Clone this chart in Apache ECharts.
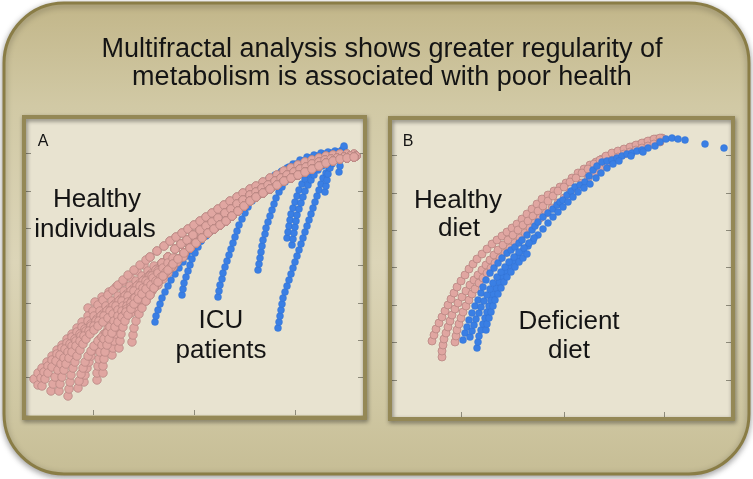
<!DOCTYPE html>
<html><head><meta charset="utf-8">
<script src="https://cdn.jsdelivr.net/npm/echarts@6/dist/echarts.min.js"></script>
<style>html,body{margin:0;padding:0;background:#fff}#c{width:753px;height:479px}</style>
</head><body><div id="c"></div>
<script>
// ---------- Panel A : Healthy individuals (pink) ----------
var trackA1 = [[124,158],[131,164],[138,169],[144,174],[150,178],[156,182],[162,186],[168,190],[174,194],[180,198],[186,202],[192,206],[198,210],[204,214],[211,218],[217,222],[224,226],[230,229],[237,233],[244,237],[251,240],[258,244],[265,247],[272,250],[279,253],[286,255],[293,257],[300,259],[307,260],[314,261],[321,261],[328,261]];
var trackA2 = [[124,139],[130,145],[136,152],[142,158],[149,166],[155,171],[161,175],[167,180],[174,185],[180,189],[186,193],[192,197],[199,202],[205,206],[211,211],[217,215],[224,220],[230,223],[236,227],[242,230],[249,234],[255,237],[261,240],[268,243],[274,246],[280,248],[286,251],[293,253],[299,255],[305,256],[311,257],[318,258],[324,259],[330,259]];
var trackA3 = [[124,120],[128,127],[132,133],[137,139],[142,145],[147,151],[152,156],[158,162],[164,167],[170,172],[176,177],[182,182],[188,186],[194,190],[200,194],[206,199],[212,204],[218,209],[224,214],[230,218],[237,222],[244,226],[251,230],[258,234],[265,237],[272,240],[279,243],[286,246],[293,249],[300,252],[307,254],[314,256],[321,257],[328,258]];
var healthyA0 = [[62,107],[69,113],[76,118],[83,123],[90,128],[97,133],[104,138],[111,144],[118,150]];
var healthyA1 = [[8,36],[12,42],[16,47],[21,53],[26,59],[31,65],[36,70],[41,76],[46,81],[51,87],[56,93],[62,99],[67,104],[72,110],[77,115],[82,120],[87,125],[92,130],[97,135],[102,140],[108,145],[114,150],[120,155]];
var healthyA2 = [[16,29],[19,36],[22,42],[26,48],[30,54],[34,60],[39,66],[44,71],[49,76],[54,81],[59,86],[65,91],[71,96],[77,101],[83,106],[89,111],[95,116],[101,121],[107,126],[113,131],[119,136],[125,141],[131,146]];
var healthyA3 = [[25,24],[27,31],[29,38],[32,45],[35,51],[38,57],[42,63],[46,69],[50,74],[55,79],[60,84],[65,89],[70,94],[75,99],[81,104],[87,109],[93,114],[99,119],[105,124],[111,129],[117,134],[123,139]];
var healthyA4 = [[33,24],[34,31],[36,38],[38,45],[40,51],[43,57],[46,63],[50,69],[54,74],[58,79],[63,84],[68,89],[73,94],[78,99],[84,104],[90,109],[96,114],[102,119],[108,124],[114,129],[120,134],[126,139],[132,144]];
var healthyA5 = [[42,19],[43,26],[44,33],[45,40],[47,47],[49,53],[51,59],[54,65],[57,71],[60,76],[64,81],[68,85],[72,89],[77,93],[82,97],[87,101],[92,105],[97,109],[102,113],[108,117],[114,121],[120,125],[126,129],[132,133]];
var healthyA6 = [[52,27],[53,34],[55,41],[57,47],[59,53],[62,59],[65,64],[68,69],[72,74],[76,78],[80,82],[85,86],[90,90],[95,94],[100,98],[105,102],[110,106],[115,110],[120,114]];
var healthyA7 = [[71,35],[71,42],[72,49],[73,56],[74,63],[76,70],[78,76],[81,82],[84,88],[88,94],[92,99],[96,104],[101,109],[106,114],[111,119],[116,124],[121,128],[126,132],[131,136],[136,140],[141,144],[146,149],[152,155],[158,161]];
var healthyA8 = [[77,42],[77,49],[78,56],[79,63],[81,70],[83,76],[86,82],[89,88],[92,93],[96,98],[100,103],[105,108],[110,112],[115,116],[120,120]];
var healthyA9 = [[93,67],[94,74],[95,81],[97,88],[99,94],[102,100],[105,106],[108,111],[112,116],[116,121],[120,126],[125,130],[130,134],[135,138],[140,143],[145,148],[151,153],[157,158]];
var healthyA10 = [[106,73],[107,80],[108,87],[110,94],[113,101],[116,107],[120,114]];
var healthyA11 = [[12,30],[15,37],[18,43],[22,49],[26,55],[31,61],[36,67],[41,72],[46,78],[51,83],[56,88],[62,94],[68,99],[74,104],[80,109],[86,114],[92,119],[98,124],[104,129],[110,134],[116,139],[122,144],[128,149]];
var healthyA12 = [[58,33],[59,40],[61,47],[63,53],[65,59],[68,65],[71,71],[74,76],[78,81],[82,86],[86,91],[90,95],[95,99],[100,103],[105,107],[110,111],[115,115],[120,119],[126,124],[132,130],[137,136],[142,142],[147,148]];
var healthyA13 = [[86,60],[87,67],[88,74],[90,81],[92,88],[95,94],[98,100],[101,106],[105,112],[109,117],[113,122],[117,127],[122,132],[127,137],[132,142],[137,147],[142,152],[147,157]];

// ---------- Panel A : ICU patients (blue) ----------
var icuA1 = [[129,93],[130,99],[132,105],[134,111],[136,117],[139,123],[142,129],[145,135],[149,141],[153,147],[157,153],[161,159],[165,164],[170,169],[175,174],[180,179],[185,184],[190,189],[196,194],[202,199],[208,204],[214,209],[220,214],[226,219],[232,224],[238,229],[245,234],[252,239],[259,243],[266,247],[273,250],[280,253],[287,256],[294,258],[301,260],[308,261],[315,262]];
var icuA2 = [[156,120],[157,126],[158,132],[160,138],[162,144],[164,150],[166,156],[169,162],[172,168],[175,174],[179,180],[183,185],[188,190],[193,195],[198,200],[204,205],[210,210],[216,215],[222,220],[228,225],[235,230],[242,235],[249,240],[256,244],[263,248],[270,251],[277,254],[284,257],[291,259],[298,261],[305,262],[312,263]];
var icuA3 = [[192,118],[193,124],[194,130],[196,136],[197,142],[199,148],[201,154],[203,160],[205,166],[207,172],[209,178],[211,184],[213,190],[216,196],[219,202],[222,208],[226,214],[230,219],[235,224],[240,229],[245,234],[250,239],[255,243],[261,247],[267,251],[274,255],[281,258],[288,260],[295,262],[302,263],[309,264],[316,265]];
var icuA4 = [[232,145],[233,151],[234,157],[235,163],[236,169],[237,175],[239,181],[240,187],[242,193],[244,199],[246,205],[248,211],[250,217],[253,223],[256,228],[259,233],[263,238],[267,242],[271,246],[276,250],[281,253],[287,256],[293,258],[299,260],[305,261],[311,262]];
var icuA5 = [[252,87],[253,93],[254,99],[255,105],[256,111],[257,117],[259,123],[261,129],[263,135],[265,141],[267,147],[269,153],[271,159],[273,165],[275,171],[277,177],[279,183],[281,189],[283,195],[285,201],[287,207],[289,213],[291,219],[293,225],[295,231],[297,237],[300,242],[303,247],[306,251],[309,255],[312,259],[315,263],[318,267]];
var icuA6 = [[261,177],[262,183],[263,189],[264,195],[265,201],[267,207],[269,213],[271,219],[273,225],[276,231],[279,236],[282,241],[286,246],[290,250],[294,253],[299,256],[304,258],[309,260],[314,261]];
var icuA7 = [[266,170],[267,176],[268,182],[269,188],[270,194],[271,200],[273,206],[275,212],[277,218],[279,224],[282,230],[285,235],[288,240],[292,245],[296,249],[300,253],[305,256],[310,259],[315,261]];
var icuA8 = [[299,223],[300,229],[301,235],[302,241],[304,247],[306,252],[309,256],[312,259],[315,261],[318,263]];
var icuA9 = [[313,243],[314,249],[314,255],[315,260],[317,264],[318,269]];

// ---------- Panel B : Healthy diet (pink) ----------
var dietB1 = [[40,76],[42,82],[44,88],[47,94],[50,100],[53,106],[56,112],[59,118],[62,124],[65,130],[69,136],[73,142],[77,148],[81,153],[85,158],[90,163],[95,168],[100,173],[105,177],[110,181],[115,185],[120,189],[125,193],[130,198],[135,203],[140,208],[145,213],[150,218],[156,222],[162,226],[168,230],[174,234],[180,239],[186,244],[192,248],[198,252],[204,255],[210,258],[216,261],[222,263],[228,265],[234,267],[240,270],[246,272],[252,274],[258,276],[264,278],[270,279]];
var dietB2 = [[50,60],[50,66],[51,72],[52,78],[54,84],[56,90],[58,96],[60,102],[63,108],[66,114],[70,120],[74,126],[78,132],[82,137],[86,142],[90,147],[94,152],[98,157],[102,162],[106,167],[111,172],[116,177],[121,182],[126,187],[131,192],[136,196],[141,201],[146,206],[151,211],[156,216],[161,221],[166,226],[172,230],[178,235],[184,239],[190,244],[196,248],[202,253],[208,257],[214,261],[220,264],[226,266],[232,268],[238,270],[244,272],[250,274],[256,276],[262,278],[268,279]];
var dietB3 = [[63,75],[64,81],[65,87],[67,93],[69,99],[71,105],[74,111],[77,117],[80,123],[83,128],[87,134],[91,139],[95,144],[99,149],[103,154],[108,159],[113,164],[118,169],[123,174],[128,179],[133,184],[138,189],[143,194],[148,199],[154,204],[160,209],[166,214],[172,219],[178,224],[184,229],[190,234],[196,239],[202,244],[208,249],[214,253],[220,257],[226,260],[232,263],[238,265],[244,267],[250,269],[256,271],[262,273],[268,275]];

// ---------- Panel B : Deficient diet (blue) ----------
var defB1 = [[71,77],[73,84],[75,90],[77,97],[80,104],[83,111],[86,117],[89,124],[91,130],[94,137],[98,144],[102,149],[106,154],[110,159],[115,164],[119,167],[123,170],[127,174],[130,177],[135,182],[140,187],[143,191],[146,195],[151,200],[156,204],[161,208],[165,212],[168,215],[171,217],[175,222],[179,226],[183,230],[188,232],[193,235],[197,241],[201,247],[205,251],[210,255],[215,256],[220,257],[225,259],[230,261],[235,263],[240,264],[245,266],[250,267],[256,269],[263,271],[268,275],[274,278],[280,279],[286,278],[293,277],[313,273],[332,269],[342,264]];
var defB2 = [[85,69],[86,75],[87,81],[89,87],[91,93],[93,99],[95,105],[97,111],[99,117],[101,123],[104,129],[107,135],[110,141],[113,146],[117,151],[121,156],[126,161],[131,166],[136,171],[141,176],[146,182],[151,188],[156,194],[161,200],[166,205],[171,210],[176,215],[181,220],[186,225],[192,229],[198,233],[204,239],[209,244],[215,249],[221,253],[227,256],[239,261],[251,265]];
var defB3 = [[78,80],[80,86],[82,92],[84,98],[87,104],[89,110],[92,116],[95,122],[98,128],[101,134],[105,140],[109,145],[113,150],[117,155],[122,160],[127,165],[132,169],[137,174],[142,179]];
var defB4 = [[94,87],[95,93],[97,99],[99,105],[101,111],[103,117],[106,123],[109,129],[112,135],[115,140],[119,145],[123,150],[127,155],[131,159],[135,163]];

// ---------- ticks ----------
var ticksAX = [67,168,269], ticksAY = [37.5,75,112,149.5,187,224,261.5];
var ticksBX = [69,172,272], ticksBY = [37,75,112,150,187,224,262];

// ---------- labels ----------
var titleLines = ['Multifractal analysis shows greater regularity of', 'metabolism is associated with poor health'];

var PINK = '#e0a6a1', PINK_B = '#b98783', BLUE = '#3a7fe4';
function pinkSeries(d, xi, yi, size) {
  return {type:'scatter', xAxisIndex:xi, yAxisIndex:yi, data:d, symbol:'circle', symbolSize:size, silent:true,
    itemStyle:{color:PINK, borderColor:PINK_B, borderWidth:0.8, opacity:1}};
}
function blueSeries(d, xi, yi, size) {
  return {type:'scatter', xAxisIndex:xi, yAxisIndex:yi, data:d, symbol:'circle', symbolSize:size, silent:true,
    itemStyle:{color:BLUE, borderColor:'#2f6fd0', borderWidth:0.4, opacity:1}};
}
function xAx(gi, max, ticks) {
  return {gridIndex:gi, type:'value', min:0, max:max, position:'bottom',
    axisLine:{show:false}, splitLine:{show:false}, axisLabel:{show:false},
    axisTick:{show:true, inside:true, length:5, customValues:ticks, lineStyle:{color:'#8e8b7b', width:1}}};
}
function yAx(gi, max, ticks, pos) {
  return {gridIndex:gi, type:'value', min:0, max:max, position:pos,
    axisLine:{show:false}, splitLine:{show:false}, axisLabel:{show:false},
    axisTick:{show:true, inside:true, length:5, customValues:ticks, lineStyle:{color:'#8e8b7b', width:1}}};
}

var series = [];
// Panel A: blue under pink
[icuA1, icuA2, icuA3, icuA4, icuA5, icuA6, icuA7, icuA8, icuA9].forEach(function(d){ series.push(blueSeries(d, 0, 0, 7)); });
[
  healthyA0.concat(trackA1), healthyA1.concat(trackA1), healthyA11.concat(trackA2.slice(2)),
  healthyA2.concat(trackA2.slice(2)), healthyA3.concat(trackA2), healthyA4.concat(trackA2.slice(2)),
  healthyA5.concat(trackA3.slice(4)), healthyA12.concat(trackA3.slice(6)), healthyA6.concat(trackA3),
  healthyA7.concat(trackA3.slice(8)), healthyA13.concat(trackA3.slice(7)),
  healthyA8.concat(trackA3.slice(1)), healthyA9.concat(trackA3.slice(8)), healthyA10.concat(trackA3)
].forEach(function(d){ series.push(pinkSeries(d, 0, 0, 8.5)); });
// Panel B: pink under blue
[dietB1, dietB2, dietB3].forEach(function(d){ series.push(pinkSeries(d, 1, 2, 8)); });
[defB1, defB2, defB3, defB4].forEach(function(d){ series.push(blueSeries(d, 1, 2, 7)); });

var FONT = '"Liberation Sans", Arial, sans-serif';
function label(txt, x, y, size) {
  return {type:'text', x:x, y:y, z:60, silent:true,
    style:{text:txt, fill:'#141414', font:size + 'px ' + FONT, align:'center', verticalAlign:'middle'}};
}

var chart = echarts.init(document.getElementById('c'), null, {renderer:'canvas'});
chart.setOption({
  animation:false,
  backgroundColor:'#ffffff',
  grid:[
    {left:26, top:116, width:337, height:299, show:true, backgroundColor:'#e8e3d0', borderWidth:0},
    {left:392, top:118, width:339, height:299, show:true, backgroundColor:'#e8e3d0', borderWidth:0}
  ],
  xAxis:[xAx(0, 337, ticksAX), xAx(1, 339, ticksBX)],
  yAxis:[yAx(0, 299, ticksAY, 'left'), yAx(0, 299, ticksAY, 'right'), yAx(1, 299, ticksBY, 'left'), yAx(1, 299, ticksBY, 'right')],
  series: series,
  graphic:[
    {type:'rect', z:-10, silent:true, shape:{x:4, y:3, width:745, height:471, r:60},
      style:{fill:new echarts.graphic.LinearGradient(0,0,0,1,[
        {offset:0, color:'#c2b689'},{offset:0.22, color:'#d1c9a5'},{offset:0.55, color:'#dcd5b8'},{offset:0.85, color:'#cfc7a2'},{offset:1, color:'#c6bd95'}]),
        stroke:'#8a7d46', lineWidth:3, shadowBlur:6, shadowOffsetY:2, shadowColor:'rgba(0,0,0,0.35)'}},
    {type:'rect', z:50, silent:true, shape:{x:24, y:117, width:341, height:301},
      style:{fill:null, stroke:'#948856', lineWidth:4, shadowBlur:4, shadowOffsetX:1, shadowOffsetY:2, shadowColor:'rgba(0,0,0,0.45)'}},
    {type:'rect', z:50, silent:true, shape:{x:390, y:118, width:343, height:301},
      style:{fill:null, stroke:'#948856', lineWidth:4, shadowBlur:4, shadowOffsetX:1, shadowOffsetY:2, shadowColor:'rgba(0,0,0,0.45)'}},
    label(titleLines[0], 382, 50, 27),
    label(titleLines[1], 382, 78, 27),
    label('A', 43, 142, 16),
    label('B', 408, 142, 16),
    label('Healthy', 97, 200, 26),
    label('individuals', 95, 230, 26),
    label('ICU', 221, 321, 26),
    label('patients', 221, 351, 26),
    label('Healthy', 458, 201, 26),
    label('diet', 459, 229, 26),
    label('Deficient', 569, 322, 26),
    label('diet', 569, 351, 26)
  ]
});
</script></body></html>
